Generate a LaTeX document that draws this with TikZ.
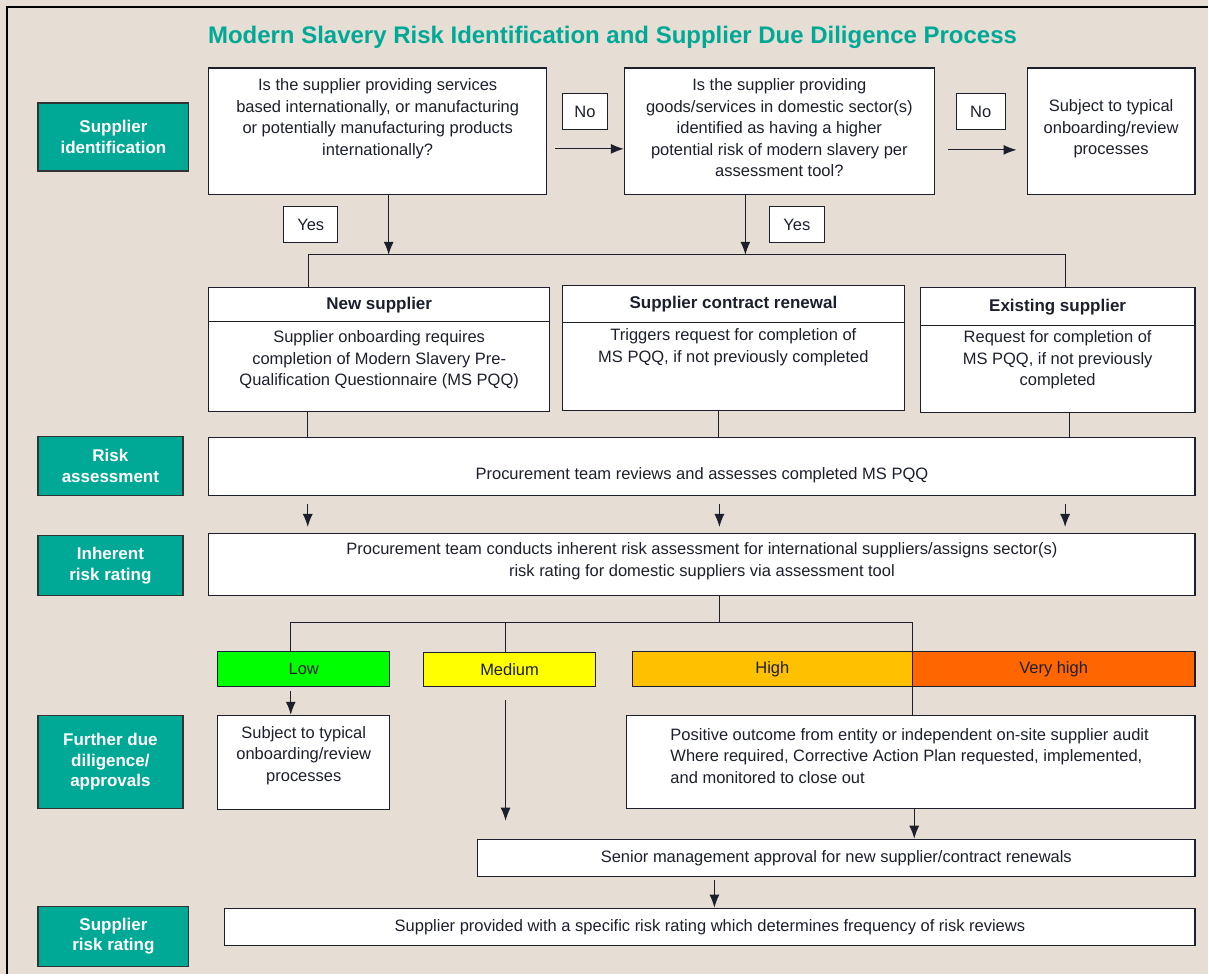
\documentclass[tikz,border=0pt]{standalone}
\usepackage{fontspec}
\setmainfont{Liberation Sans}
\usepackage{xcolor}
\usetikzlibrary{arrows.meta, calc, positioning}

\definecolor{paper}{RGB}{230,221,212}
\definecolor{ink}{RGB}{28,32,44}
\definecolor{msteal}{RGB}{0,168,150}
\definecolor{lowc}{RGB}{0,255,0}
\definecolor{medc}{RGB}{255,255,0}
\definecolor{highc}{RGB}{255,192,0}
\definecolor{vhighc}{RGB}{255,102,0}

% text block of fixed size, first baseline #3 below the top
\newcommand{\boxlines}[4]{\parbox[c][#2pt][t]{#1pt}{\centering\rule{0pt}{#3pt}#4}}

\begin{document}
\begin{tikzpicture}[x=1pt, y=-1pt,
    every node/.style={text=ink, font=\fontsize{16.5}{21.5}\selectfont},
    card/.style={draw=ink, line width=1.2pt, fill=white, inner sep=0pt, align=center},
    head/.style={card, font=\bfseries\fontsize{17}{21}\selectfont},
    sz/.style 2 args={minimum width=#1pt, minimum height=#2pt},
    stage/.style={draw=black!80, line width=1.3pt, fill=msteal, text=white, inner sep=0pt,
        align=center, font=\bfseries\fontsize{17}{20.5}\selectfont},
    tag/.style={draw=ink, line width=1pt, fill=white, inner sep=0pt},
    band/.style={draw=ink, line width=1.2pt, inner sep=0pt},
    arr/.style={-{Latex[length=13pt,width=10pt]}, line width=1.2pt, draw=ink},
    link/.style={line width=1.2pt, draw=ink}]

    \fill[paper] (0,0) rectangle (1209,975);
    \draw[line width=2pt] (7,975) -- (7,7) -- (1209,7);
    \useasboundingbox (0,0) rectangle (1209,975);

    \node[text=msteal, font=\bfseries\fontsize{24}{28}\selectfont] (title) at (613,37)
        {Modern Slavery Risk Identification and Supplier Due Diligence Process};

    % stage labels
    \node[stage, sz={151}{68}] (lblid) at (113.5,137) {Supplier\\identification};
    \node[stage, sz={145}{59}] (lblra) at (110.5,466.5) {Risk\\assessment};
    \node[stage, sz={145}{60}] (lblinh) at (110.5,566) {Inherent\\risk rating};
    \node[stage, sz={145}{93}] (lblfdd) at (110.5,762.5) {Further due\\diligence/\\approvals};
    \node[stage, sz={151}{60}] (lblsrr) at (113.5,937) {Supplier\\risk rating};

    % identification
    \node[card] (q1) at (378,131.5) {\boxlines{338}{127}{23}{Is the supplier providing services\\
        based internationally, or manufacturing\\or potentially manufacturing products\\internationally?}};
    \node[card] (q2) at (780,131.5) {\boxlines{310}{127}{23}{Is the supplier providing\\
        goods/services in domestic sector(s)\\identified as having a higher\\
        potential risk of modern slavery per\\assessment tool?}};
    \node[card] (sub1) at (1112,131.5) {\boxlines{168}{127}{44}{Subject to typical\\onboarding/review\\processes}};
    \node[tag, sz={45}{36}] (no1) at (585.5,112) {No};
    \node[tag, sz={49}{36}] (no2) at (981.5,112) {No};
    \node[tag, sz={54}{36}] (yes1) at (311,225) {Yes};
    \node[tag, sz={55}{36}] (yes2) at (797.5,225) {Yes};

    % supplier types
    \node[head, sz={341}{34}] (newhd) at (379.5,305) {New supplier};
    \node[card] (newbd) at (379.5,367) {\boxlines{341}{90}{21}{Supplier onboarding requires\\
        completion of Modern Slavery Pre-\\Qualification Questionnaire (MS PQQ)}};
    \node[head, sz={342}{37}] (conhd) at (734,304.5) {Supplier contract renewal};
    \node[card] (conbd) at (734,367) {\boxlines{342}{88}{18}{Triggers request for completion of\\
        MS PQQ, if not previously completed}};
    \node[head, sz={275}{38}] (exhd) at (1058.5,307) {Existing supplier};
    \node[card] (exbd) at (1058.5,369.5) {\boxlines{275}{87}{17}{Request for completion of\\
        MS PQQ, if not previously\\completed}};

    % assessment
    \node[card] (ra) at (702.5,467) {\boxlines{987}{58}{42}{Procurement team reviews and assesses completed MS PQQ}};
    \node[card] (inh) at (702.5,565) {\boxlines{987}{62}{21}{Procurement team conducts inherent risk
        assessment for international suppliers/assigns sector(s)\\
        risk rating for domestic suppliers via assessment tool}};

    % ratings
    \node[band, fill=lowc, sz={172}{35}] (low) at (304,669.5) {Low};
    \node[band, fill=medc, sz={172}{34}] (med) at (510,670) {Medium};
    \node[band, fill=highc, sz={280}{35}] (high) at (773,669.5) {High};
    \node[band, fill=vhighc, sz={283}{35}] (vhigh) at (1054.5,669.5) {Very high};

    \node[card] (lowsub) at (304,763) {\boxlines{172}{94}{23}{Subject to typical\\onboarding/review\\processes}};
    \node[card] (pos) at (911.5,762.5) {\parbox[c][93pt][t]{569pt}{\raggedright\leftskip=44pt
        \rule{0pt}{25pt}Positive outcome from entity or independent on-site supplier audit\\
        Where required, Corrective Action Plan requested, implemented,\\
        and monitored to close out}};
    \node[card, sz={718}{37}] (sen) at (837,858.5) {Senior management approval for new supplier/contract renewals};
    \node[card, sz={971}{37}] (fin) at (710.5,927.5) {Supplier provided with a specific risk rating which determines frequency of risk reviews};

    \coordinate (j1) at (389,255);
    \coordinate (j2) at (746,255);
    \coordinate (barL) at (309,255);
    \coordinate (barR) at (1066,255);
    \coordinate (fork) at (720,623);
    \coordinate (forkL) at (291,623);
    \coordinate (forkR) at (913,623);

    \draw[arr] (q1.east |- 0,149) ++(8,0) -- (q2.west |- 0,149);
    \draw[arr] (q2.east |- 0,150) ++(13,0) -- ([xshift=-10pt]sub1.west |- 0,150);
    \draw[arr] (q1.south -| j1) -- (j1);
    \draw[arr] (q2.south -| j2) -- (j2);
    \draw[link] (newhd.north -| barL) -- (barL) -- (barR) -- (exhd.north -| barR);

    \draw[link] (newbd.south -| 308,0) -- (ra.north -| 308,0);
    \draw[link] (conbd.south -| 719,0) -- (ra.north -| 719,0);
    \draw[link] (exbd.south -| 1070,0) -- (ra.north -| 1070,0);
    \foreach \x in {308,720,1066}
        \draw[arr] (ra.south -| \x,0) ++(0,8) -- ([yshift=6pt]inh.north -| \x,0);

    \draw[link] (inh.south -| fork) -- (fork);
    \draw[link] (low.north -| forkL) -- (forkL) -- (forkR) -- (pos.north -| forkR);
    \draw[link] (med.north -| 506,0) -- (506,623);
    \draw[arr] (low.south -| 291,0) ++(0,4) -- (lowsub.north -| 291,0);
    \draw[arr] (med.south -| 506,0) ++(0,13) -- ([yshift=18pt]sen.north -| 506,0);
    \draw[arr] (pos.south -| 915,0) -- (sen.north -| 915,0);
    \draw[arr] (sen.south -| 715,0) ++(0,3) -- (fin.north -| 715,0);
\end{tikzpicture}
\end{document}
